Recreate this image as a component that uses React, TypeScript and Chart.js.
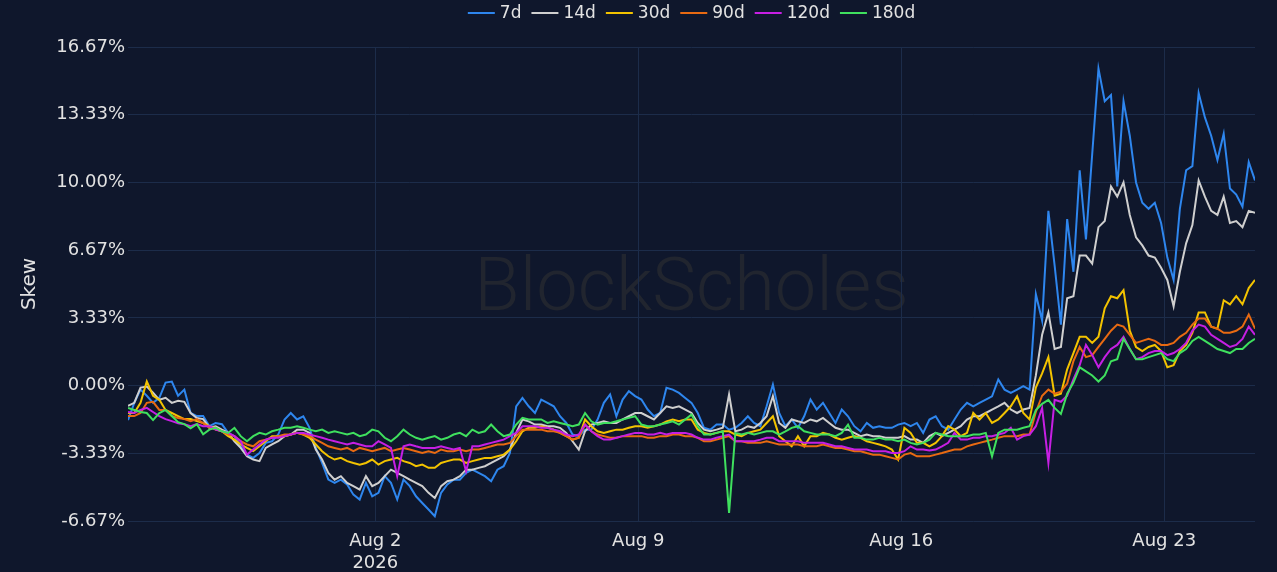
import { useEffect, useRef } from 'react';
import { Chart, registerables } from 'chart.js';

Chart.register(...registerables);

const FONT = '"DejaVu Sans", Verdana, sans-serif';
const BG = '#0f172c';
const GRID = '#1c2c4a';
const TEXT = '#e2e2e2';

// time grid: Jul 26 2026 10:00 UTC, one sample every 4 hours
const START = Date.UTC(2026, 6, 26, 10);
const STEP_HOURS = 4;

const SERIES_NAMES = ['7d', '14d', '30d', '90d', '120d', '180d'];
const SERIES_COLORS = ['#2e86ee', '#cfcfcf', '#f3c300', '#e86a12', '#c61fe3', '#3fe05e'];

const X_TICK_DATES = [Date.UTC(2026, 7, 2), Date.UTC(2026, 7, 9), Date.UTC(2026, 7, 16), Date.UTC(2026, 7, 23)];
const X_TICK_LABELS: (string | string[])[] = [['Aug 2', '2026'], 'Aug 9', 'Aug 16', 'Aug 23'];
const Y_TICKS = [-20 / 3, -10 / 3, 0, 10 / 3, 20 / 3, 10, 40 / 3, 50 / 3];
const Y_MIN = -20 / 3;
const Y_MAX = 50 / 3;

const skew7d = [
  -1.7, -0.85, -0.2, -0.5, -0.85, -0.6, 0.15, 0.2, -0.5, -0.2, -1.35, -1.5, -1.5,
  -2.0, -1.84, -1.9, -2.33, -2.49, -2.99, -3.4, -3.56, -3.32, -2.82, -2.74, -2.41,
  -1.67, -1.35, -1.67, -1.51, -2.08, -3.07, -3.81, -4.63, -4.79, -4.63, -4.87, -5.37,
  -5.61, -4.79, -5.45, -5.28, -4.46, -4.79, -5.61, -4.63, -4.95, -5.45, -5.78, -6.1, -6.43, -5.28, -4.87, -4.63,
  -4.63, -4.3, -4.14, -4.3, -4.46, -4.71, -4.14, -3.97, -3.32, -1.02, -0.61, -1.02,
  -1.35, -0.69, -0.85, -1.02, -1.51, -1.84, -2.41, -2.49, -2.17, -2.17, -1.67, -0.85, -0.44, -1.51, -0.69, -0.28,
  -0.52, -0.69, -1.18, -1.51, -1.35, -0.11, -0.2, -0.36, -0.61, -0.85, -1.35, -2.08, -2.17, -1.92, -1.92, -2.17, -2.08, -1.84, -1.51, -1.84,
  -2.0, -1.02, 0.05, -1.35, -2.0, -1.67, -2.08, -1.51, -0.69, -1.18, -0.85, -1.35, -1.84, -1.18, -1.51, -2.0, -2.25, -1.84, -2.08, -2.0, -2.08, -2.08, -1.92, -1.84,
  -2.0, -1.84, -2.33, -1.67, -1.51, -2.0, -2.17, -1.67, -1.18, -0.85, -1.02, -0.85, -0.69, -0.53, 0.3, -0.2, -0.36, -0.2, -0.03, -0.2,
  4.5, 3.2, 8.6, 5.9, 3.0, 8.2, 5.6, 10.6, 7.2, 11.4, 15.6, 14.0, 14.3, 9.8, 14.0, 12.3, 10.0, 9.0, 8.7, 9.0, 8.0, 6.3, 5.2, 8.7, 10.6, 10.8, 14.4, 13.2, 12.3, 11.1, 12.4, 9.7, 9.4, 8.8, 11.0, 10.1,
];

const skew14d = [
  -1.0, -0.85, -0.1, -0.05, -0.35, -0.7, -0.6, -0.85, -0.75, -0.8, -1.35, -1.6, -1.65,
  -2.08, -2.0, -2.17, -2.33, -2.74, -3.07, -3.48, -3.64, -3.72, -3.07, -2.9, -2.74,
  -2.49, -2.41, -2.17, -2.17, -2.33, -3.15, -3.64, -4.3, -4.63, -4.46, -4.79, -4.95,
  -5.12, -4.46, -4.95, -4.79, -4.46, -4.14, -4.3, -4.46, -4.63, -4.79, -4.95, -5.28, -5.53, -4.95, -4.71, -4.63,
  -4.46, -4.14, -4.14, -4.05, -3.97, -3.81, -3.64, -3.48, -3.15, -2.33, -1.67, -1.76,
  -1.92, -1.92, -2.0, -2.0, -2.08, -2.33, -2.74, -3.15, -2.25, -1.92, -1.84, -1.76, -1.84, -1.84, -1.67, -1.51,
  -1.35, -1.35, -1.51, -1.67, -1.35, -1.02, -1.1, -1.02, -1.18, -1.35, -1.84, -2.17, -2.25, -2.17, -2.08, -0.44, -2.25, -2.17, -2.0, -2.08,
  -1.84, -1.51, -0.52, -1.84, -2.08, -1.67, -1.76, -1.84, -1.67, -1.76, -1.59, -1.84, -2.08, -2.17, -2.17, -2.33, -2.49, -2.41, -2.49, -2.49, -2.57, -2.57, -2.57, -2.49,
  -2.66, -2.66, -2.82, -2.49, -2.33, -2.49, -2.33, -2.17, -2.0, -1.67, -1.51, -1.51, -1.35, -1.18, -1.02, -0.85, -1.18, -1.35, -1.18, -1.1,
  0.5, 2.5, 3.6, 1.8, 1.9, 4.3, 4.4, 6.4, 6.4, 6.0, 7.8, 8.1, 9.8, 9.3, 10.0, 8.4, 7.3, 6.9, 6.4, 6.3, 5.8, 5.2, 3.9, 5.6, 7.0, 7.9, 10.1, 9.3, 8.6, 8.4, 9.3, 8.0, 8.1, 7.8, 8.6, 8.5,
];

const skew30d = [
  -1.35, -1.35, -0.85, 0.2, -0.5, -0.7, -1.2, -1.35, -1.5, -1.65, -1.65, -1.75, -1.85,
  -2.0, -2.17, -2.25, -2.49, -2.66, -2.9, -3.07, -3.23, -2.99, -2.74, -2.49, -2.49,
  -2.49, -2.41, -2.33, -2.41, -2.57, -2.9, -3.23, -3.48, -3.64, -3.56, -3.72, -3.81,
  -3.89, -3.81, -3.64, -3.89, -3.72, -3.64, -3.56, -3.72, -3.81, -3.97, -3.89, -4.05, -4.05, -3.81, -3.72, -3.64,
  -3.64, -3.81, -3.72, -3.64, -3.56, -3.56, -3.48, -3.4, -3.15, -2.74, -2.25, -2.08,
  -2.08, -2.0, -2.08, -2.17, -2.33, -2.49, -2.66, -2.57, -1.67, -2.0, -2.25, -2.33, -2.25, -2.17, -2.17, -2.08,
  -2.0, -2.0, -2.08, -2.0, -1.92, -1.76, -1.67, -1.76, -1.67, -1.67, -2.17, -2.33, -2.41, -2.33, -2.25, -2.25, -2.41, -2.49, -2.33, -2.25,
  -2.17, -1.84, -1.51, -2.49, -2.74, -2.99, -2.49, -2.99, -2.49, -2.49, -2.33, -2.41, -2.57, -2.66, -2.57, -2.49, -2.57, -2.74, -2.82, -2.9, -2.99, -3.15, -3.64, -2.08,
  -2.33, -2.82, -2.82, -2.99, -2.82, -2.49, -2.0, -2.17, -2.49, -2.33, -1.35, -1.67, -1.35, -1.84, -1.67, -1.35, -1.02, -0.53, -1.35, -1.67,
  -0.1, 0.6, 1.4, -0.5, -0.4, 0.8, 1.6, 2.4, 2.4, 2.1, 2.4, 3.8, 4.4, 4.3, 4.7, 2.7, 1.9, 1.7, 1.9, 2.0, 1.7, 0.9, 1.0, 1.7, 2.0, 2.6, 3.6, 3.6, 2.9, 2.8, 4.2, 4.0, 4.4, 4.0, 4.8, 5.2,
];

const skew90d = [
  -1.5, -1.5, -1.35, -0.85, -0.8, -1.2, -1.2, -1.5, -1.6, -1.65, -1.75, -1.65, -1.85,
  -2.08, -2.08, -2.25, -2.41, -2.49, -2.74, -2.9, -2.99, -2.74, -2.66, -2.57, -2.49,
  -2.41, -2.41, -2.33, -2.41, -2.49, -2.66, -2.82, -2.99, -3.07, -3.15, -3.07, -3.23,
  -3.07, -3.15, -3.23, -3.15, -3.07, -3.23, -3.15, -3.07, -3.15, -3.23, -3.32, -3.23, -3.32, -3.15, -3.23, -3.23,
  -3.15, -3.23, -3.15, -3.15, -3.07, -2.99, -2.9, -2.9, -2.82, -2.49, -2.17, -2.17,
  -2.17, -2.17, -2.25, -2.25, -2.33, -2.49, -2.66, -2.57, -1.92, -2.25, -2.41, -2.49, -2.57, -2.57, -2.49, -2.49,
  -2.49, -2.49, -2.57, -2.57, -2.49, -2.49, -2.41, -2.41, -2.49, -2.49, -2.57, -2.74, -2.74, -2.66, -2.57, -2.49, -2.74, -2.74, -2.82, -2.82,
  -2.82, -2.74, -2.82, -2.9, -2.9, -2.9, -2.9, -2.99, -2.99, -2.99, -2.9, -2.99, -3.07, -3.07, -3.15, -3.23, -3.23, -3.32, -3.4, -3.4, -3.48, -3.56, -3.64, -3.4,
  -3.32, -3.48, -3.48, -3.48, -3.4, -3.32, -3.23, -3.15, -3.15, -2.99, -2.9, -2.82, -2.74, -2.66, -2.57, -2.49, -2.49, -2.49, -2.41, -2.41,
  -1.3, -0.5, -0.2, -0.4, -0.3, 0.1, 1.2, 1.9, 1.4, 1.5, 1.9, 2.3, 2.7, 3.0, 2.9, 2.5, 2.1, 2.2, 2.3, 2.2, 2.0, 2.0, 2.1, 2.4, 2.6, 3.0, 3.3, 3.3, 2.9, 2.8, 2.6, 2.6, 2.7, 2.9, 3.5, 2.8,
];

const skew120d = [
  -1.3, -1.35, -1.2, -1.1, -1.3, -1.5, -1.65, -1.75, -1.85, -1.9, -2.0, -1.9, -2.0,
  -2.0, -2.17, -2.25, -2.33, -2.49, -2.74, -3.4, -3.15, -2.9, -2.66, -2.57, -2.57,
  -2.49, -2.41, -2.33, -2.33, -2.41, -2.49, -2.57, -2.66, -2.74, -2.82, -2.9, -2.82,
  -2.9, -2.99, -2.99, -2.74, -2.9, -3.07, -4.46, -2.99, -2.9, -2.99, -3.07, -3.07, -3.07, -2.99, -3.07, -3.15,
  -3.07, -4.22, -2.99, -2.99, -2.9, -2.82, -2.74, -2.66, -2.49, -2.33, -2.0, -2.0,
  -2.0, -2.08, -2.08, -2.17, -2.25, -2.41, -2.49, -2.41, -1.92, -2.25, -2.49, -2.66, -2.66, -2.57, -2.49, -2.41,
  -2.33, -2.33, -2.41, -2.41, -2.33, -2.41, -2.33, -2.33, -2.33, -2.41, -2.57, -2.66, -2.66, -2.57, -2.49, -2.41, -2.74, -2.74, -2.74, -2.74,
  -2.66, -2.57, -2.57, -2.74, -2.74, -2.74, -2.74, -2.82, -2.82, -2.82, -2.82, -2.9, -2.99, -2.99, -3.07, -3.15, -3.15, -3.15, -3.23, -3.23, -3.23, -3.32, -3.32, -3.23,
  -2.99, -3.15, -3.15, -3.2, -3.15, -2.99, -2.82, -2.33, -2.66, -2.66, -2.57, -2.57, -2.49, -2.49, -2.41, -2.33, -2.08, -2.66, -2.49, -2.41,
  -2.0, -1.1, -3.8, -0.7, -0.8, -0.5, 0.3, 1.0, 2.0, 1.5, 0.9, 1.4, 1.8, 2.0, 2.4, 1.8, 1.3, 1.4, 1.6, 1.7, 1.7, 1.5, 1.6, 1.8, 2.1, 2.7, 3.0, 2.9, 2.5, 2.3, 2.1, 1.9, 2.0, 2.3, 2.9, 2.5,
];

const skew180d = [
  -1.1, -1.2, -1.3, -1.35, -1.7, -1.35, -1.2, -1.5, -1.8, -1.9, -2.1, -1.9, -2.4,
  -2.17, -2.08, -2.25, -2.33, -2.08, -2.49, -2.74, -2.49, -2.33, -2.41, -2.25, -2.17,
  -2.08, -2.08, -2.0, -2.08, -2.17, -2.25, -2.17, -2.33, -2.25, -2.33, -2.41, -2.33,
  -2.49, -2.41, -2.17, -2.25, -2.57, -2.74, -2.49, -2.17, -2.41, -2.57, -2.66, -2.57, -2.49, -2.66, -2.57, -2.41,
  -2.33, -2.49, -2.17, -2.33, -2.25, -1.92, -2.25, -2.49, -2.41, -1.92, -1.59, -1.67,
  -1.67, -1.67, -1.84, -1.76, -1.84, -1.92, -2.0, -1.92, -1.35, -1.76, -1.92, -1.84, -1.84, -1.76, -1.67, -1.59,
  -1.51, -1.92, -2.0, -2.0, -1.92, -1.84, -1.76, -1.92, -1.67, -1.43, -2.0, -2.41, -2.41, -2.33, -2.25, -6.27, -2.33, -2.41, -2.33, -2.41,
  -2.33, -2.25, -2.25, -2.41, -2.25, -2.08, -2.0, -2.25, -2.33, -2.41, -2.41, -2.41, -2.49, -2.33, -1.92, -2.57, -2.57, -2.66, -2.66, -2.57, -2.66, -2.66, -2.74, -2.66,
  -2.82, -2.9, -2.82, -2.66, -2.33, -2.41, -2.49, -2.49, -2.49, -2.49, -2.41, -2.41, -2.33, -3.48, -2.33, -2.17, -2.17, -2.17, -2.08, -2.0,
  -1.2, -0.9, -0.7, -1.1, -1.4, -0.4, 0.15, 0.9, 0.7, 0.5, 0.2, 0.5, 1.2, 1.3, 2.3, 1.8, 1.3, 1.3, 1.4, 1.5, 1.6, 1.3, 1.2, 1.6, 1.8, 2.2, 2.4, 2.2, 2.0, 1.8, 1.7, 1.6, 1.8, 1.8, 2.1, 2.3,
];

const SERIES_VALUES = [skew7d, skew14d, skew30d, skew90d, skew120d, skew180d];

const bgPlugin = {
  id: 'bgAndWatermark',
  beforeDraw(chart: any) {
    const { ctx, width, height, chartArea } = chart;
    ctx.save();
    ctx.fillStyle = BG;
    ctx.fillRect(0, 0, width, height);
    ctx.font = '300 74px Roboto, "Open Sans", sans-serif';
    ctx.fillStyle = '#21252f';
    ctx.textAlign = 'center';
    ctx.textBaseline = 'alphabetic';
    ctx.fillText('BlockScholes', (chartArea.left + chartArea.right) / 2, 310);
    ctx.restore();
  },
  afterDraw(chart: any) {
    const { ctx, chartArea } = chart;
    const lineW = 27;
    const gap = 5;
    const itemGap = 10;
    ctx.save();
    ctx.font = `17px ${FONT}`;
    const widths = SERIES_NAMES.map((n) => ctx.measureText(n).width);
    const total = widths.reduce((s, w) => s + lineW + gap + w, 0) + itemGap * (SERIES_NAMES.length - 1);
    let x = (chartArea.left + chartArea.right) / 2 - total / 2;
    const y = 13;
    ctx.textBaseline = 'middle';
    ctx.textAlign = 'left';
    SERIES_NAMES.forEach((name, i) => {
      ctx.strokeStyle = SERIES_COLORS[i];
      ctx.lineWidth = 2;
      ctx.beginPath();
      ctx.moveTo(x, y);
      ctx.lineTo(x + lineW, y);
      ctx.stroke();
      x += lineW + gap;
      ctx.fillStyle = TEXT;
      ctx.fillText(name, x, y + 1);
      x += widths[i] + itemGap;
    });
    ctx.restore();
  },
};

export default function App() {
  const canvasRef = useRef<HTMLCanvasElement | null>(null);

  useEffect(() => {
    if (!canvasRef.current) return;
    const stepMs = STEP_HOURS * 3600000;
    const n = skew7d.length;
    const datasets = SERIES_NAMES.map((name, si) => ({
      label: name,
      data: SERIES_VALUES[si].map((v, i) => ({ x: START + i * stepMs, y: v })),
      borderColor: SERIES_COLORS[si],
      backgroundColor: SERIES_COLORS[si],
      borderWidth: 2,
      pointRadius: 0,
      tension: 0,
      order: SERIES_NAMES.length - si,
    }));

    const chart = new Chart(canvasRef.current, {
      type: 'line',
      data: { datasets },
      plugins: [bgPlugin],
      options: {
        responsive: false,
        animation: false,
        devicePixelRatio: 1,
        layout: { padding: { top: 47, right: 22, bottom: 0, left: 0 } },
        plugins: {
          legend: { display: false },
          tooltip: { enabled: false },
        },
        scales: {
          x: {
            type: 'linear',
            min: START,
            max: START + (n - 1) * stepMs,
            afterBuildTicks: (scale: any) => {
              scale.ticks = X_TICK_DATES.map((value) => ({ value }));
            },
            afterFit: (scale: any) => {
              scale.height = 51;
            },
            ticks: {
              autoSkip: false,
              maxRotation: 0,
              padding: 10,
              color: TEXT,
              font: { family: FONT, size: 18 },
              callback: (value: any) => {
                const idx = X_TICK_DATES.indexOf(Number(value));
                return idx >= 0 ? X_TICK_LABELS[idx] : '';
              },
            },
            grid: { color: GRID, lineWidth: 1, drawTicks: false },
            border: { display: false },
          },
          y: {
            type: 'linear',
            min: Y_MIN,
            max: Y_MAX,
            afterBuildTicks: (scale: any) => {
              scale.ticks = Y_TICKS.map((value) => ({ value }));
            },
            afterFit: (scale: any) => {
              scale.width = 128;
            },
            ticks: {
              padding: 3,
              color: TEXT,
              font: { family: FONT, size: 18 },
              callback: (value: any) => `${Number(value).toFixed(2)}%`,
            },
            grid: { color: GRID, lineWidth: 1, drawTicks: false },
            border: { display: false },
            title: {
              display: true,
              text: 'Skew',
              color: TEXT,
              font: { family: FONT, size: 20 },
              padding: { top: 18, bottom: 0 },
            },
          },
        },
      },
    });
    return () => chart.destroy();
  }, []);

  return (
    <div style={{ position: 'fixed', left: 0, top: 0, width: 1277, height: 572, background: BG }}>
      <canvas ref={canvasRef} width={1277} height={572} style={{ display: 'block' }} />
    </div>
  );
}
